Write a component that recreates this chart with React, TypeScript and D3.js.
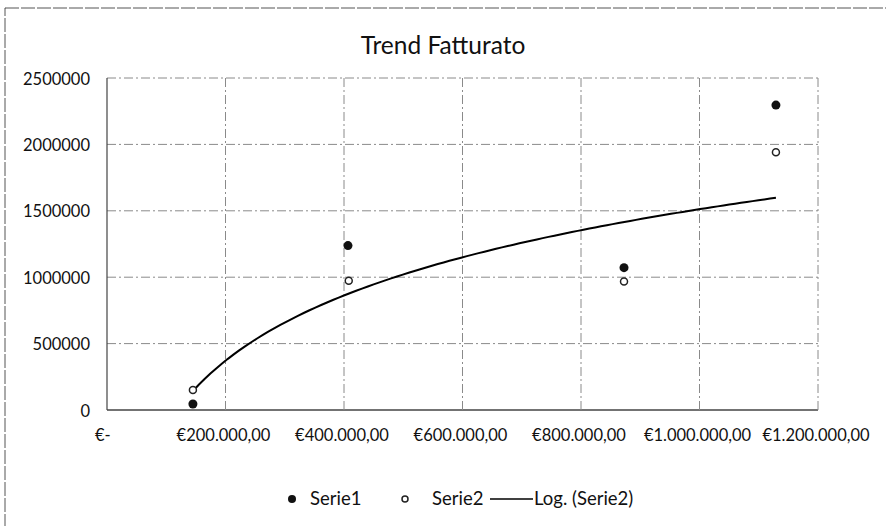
import React from 'react';
import * as d3 from 'd3';

// values
const serie1X = [145000, 406700, 872600, 1129000];
const serie1Y = [45000, 1238000, 1072000, 2296000];
const serie2X = [145000, 408000, 872600, 1129000];
const serie2Y = [151000, 974000, 967000, 1941000];
const xTicks = [0, 200000, 400000, 600000, 800000, 1000000, 1200000];
const yTicks = [0, 500000, 1000000, 1500000, 2000000, 2500000];

const W = 886;
const H = 526;
const margin = { left: 107, right: 68, top: 78, bottom: 116 };
const font = 'Lato, "Open Sans", sans-serif';

const fmtEuro = (v: number) => {
  if (v === 0) return '€-';
  const s = d3.format(',')(v).replace(/,/g, '.');
  return `€${s},00`;
};

// logarithmic trendline (least squares on ln x), like Excel's "Log." trend
function logFit(xs: number[], ys: number[]) {
  const lx = xs.map(Math.log);
  const mx = d3.mean(lx)!;
  const my = d3.mean(ys)!;
  let sxy = 0;
  let sxx = 0;
  lx.forEach((l, i) => {
    sxy += (l - mx) * (ys[i] - my);
    sxx += (l - mx) * (l - mx);
  });
  const a = sxy / sxx;
  const b = my - a * mx;
  return (x: number) => a * Math.log(x) + b;
}

export default function App() {
  const x = d3.scaleLinear().domain([0, 1200000]).range([margin.left, W - margin.right]);
  const y = d3.scaleLinear().domain([0, 2500000]).range([H - margin.bottom, margin.top]);

  const trend = logFit(serie2X, serie2Y);
  const x0 = d3.min(serie2X)!;
  const x1 = d3.max(serie2X)!;
  const trendPts = d3.range(0, 101).map((i) => x0 + ((x1 - x0) * i) / 100);
  const line = d3
    .line<number>()
    .x((d) => x(d))
    .y((d) => y(trend(d)));

  const grid = '#8a8a8a';

  return (
    <svg
      width={W}
      height={H}
      style={{ position: 'absolute', left: 0, top: 0, background: '#fff' }}
      fontFamily={font}
    >
      <rect x={5} y={8} width={W} height={H} fill="none" stroke="#555" strokeWidth={1} strokeDasharray="14 2" />
      <text x={443} y={54} textAnchor="middle" fontSize={24.5} fill="#111">
        Trend Fatturato
      </text>

      {/* horizontal grid */}
      {yTicks.map((t) => (
        <line
          key={'h' + t}
          x1={x(0)}
          x2={x(1200000)}
          y1={y(t)}
          y2={y(t)}
          stroke={t === 0 ? '#444' : grid}
          strokeWidth={t === 0 ? 1.5 : 1}
          strokeDasharray={t === 0 ? undefined : '9 3 2 3'}
        />
      ))}
      {/* vertical grid */}
      {xTicks.map((t) => (
        <line
          key={'v' + t}
          x1={x(t)}
          x2={x(t)}
          y1={y(0)}
          y2={y(2500000)}
          stroke={t === 0 ? '#444' : grid}
          strokeWidth={t === 0 ? 1.2 : 1}
          strokeDasharray={t === 0 ? undefined : '9 3 2 3'}
        />
      ))}

      {yTicks.map((t) => (
        <text key={'yl' + t} x={x(0) - 17} y={y(t) + 6.5} textAnchor="end" fontSize={16.5} fill="#111">
          {t}
        </text>
      ))}
      {xTicks.map((t) => (
        <text
          key={'xl' + t}
          x={t === 0 ? 95 : x(t) - 2}
          y={y(0) + 31}
          textAnchor={t === 0 ? 'start' : 'middle'}
          fontSize={16.5}
          fill="#111"
        >
          {fmtEuro(t)}
        </text>
      ))}

      <path d={line(trendPts) ?? ''} fill="none" stroke="#000" strokeWidth={2} />

      {serie1X.map((v, i) => (
        <circle key={'s1' + i} cx={x(v)} cy={y(serie1Y[i])} r={4.5} fill="#111" />
      ))}
      {serie2X.map((v, i) => (
        <circle
          key={'s2' + i}
          cx={x(v)}
          cy={y(serie2Y[i])}
          r={3.5}
          fill="#fff"
          stroke="#222"
          strokeWidth={1.5}
        />
      ))}

      {/* legend */}
      <g fontSize={18.5} fill="#111">
        <circle cx={292} cy={499} r={4} fill="#111" />
        <text x={310} y={505}>Serie1</text>
        <circle cx={405} cy={499} r={3} fill="#fff" stroke="#222" strokeWidth={1.5} />
        <text x={432} y={505}>Serie2</text>
        <line x1={490} x2={533} y1={499} y2={499} stroke="#000" strokeWidth={1.5} />
        <text x={534} y={505}>Log. (Serie2)</text>
      </g>
    </svg>
  );
}
